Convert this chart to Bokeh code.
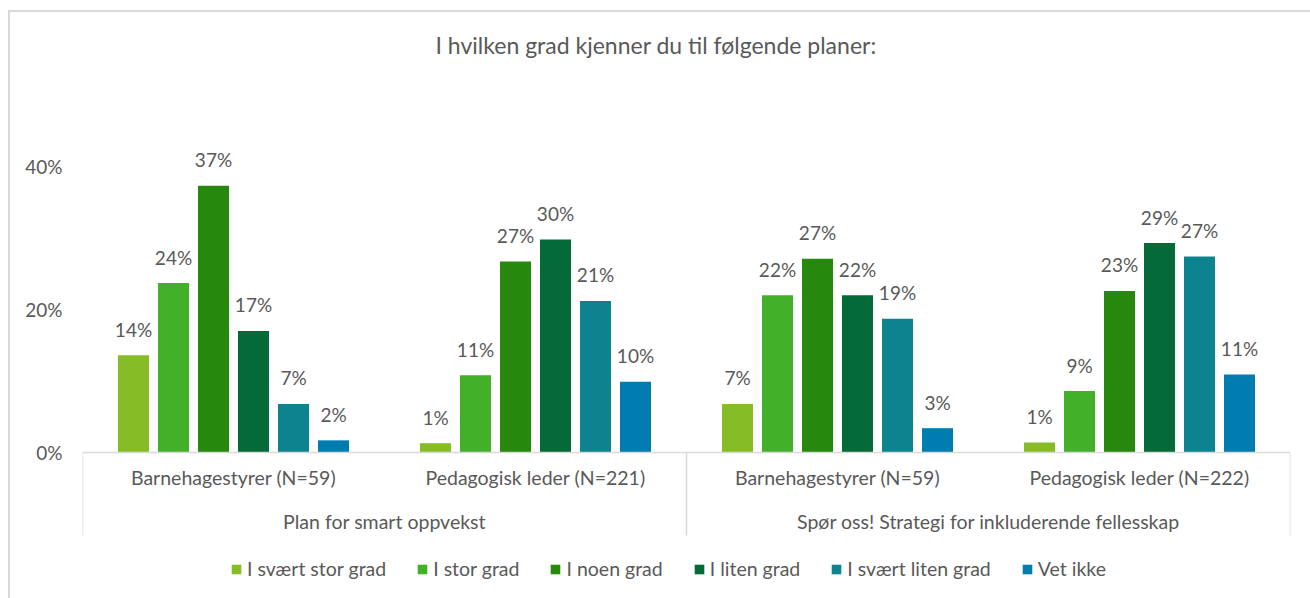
from bokeh.plotting import figure
from bokeh.models import (FactorRange, Range1d, ColumnDataSource, FixedTicker,
                          PrintfTickFormatter, Legend, LegendItem)
from bokeh.transform import dodge
from bokeh.core.properties import value
from bokeh.embed import file_html
from bokeh.resources import INLINE

# ---------------- data ----------------
title_text = "I hvilken grad kjenner du til følgende planer:"
plans = ["Plan for smart oppvekst", "Spør oss! Strategi for inkluderende fellesskap"]
respondents = [["Barnehagestyrer (N=59)", "Pedagogisk leder (N=221)"],
               ["Barnehagestyrer (N=59)", "Pedagogisk leder (N=222)"]]
series = ["I svært stor grad", "I stor grad", "I noen grad",
          "I liten grad", "I svært liten grad", "Vet ikke"]
colors = ["#86BC25", "#43B02A", "#26890D", "#046A38", "#0D8390", "#007CB0"]
svaert_stor = [13.6, 1.3, 6.8, 1.4]
stor = [23.7, 10.8, 22.0, 8.6]
noen = [37.3, 26.7, 27.1, 22.6]
liten = [17.0, 29.8, 22.0, 29.3]
svaert_liten = [6.8, 21.2, 18.7, 27.4]
vet_ikke = [1.7, 9.9, 3.4, 10.9]
y_ticks = [0, 20, 40]
values = [svaert_stor, stor, noen, liten, svaert_liten, vet_ikke]

# ---------------- layout constants (pixels) ----------------
W, H = 1310, 598
LEFT, RIGHT, TOP, BOTTOM = 82, 20, 63, 0
ZERO_Y = 452            # pixel row of the 0% baseline
PX = 7.15               # pixels per percentage point
FONT = "Lato"
TXT = "#595959"
GRAY = "#d9d9d9"
FS = "19px"
FS_AX = "19.5px"

y_end = (ZERO_Y - TOP) / PX
y_start = y_end - (H - TOP - BOTTOM) / PX


def below(px):
    return -px / PX


factors = [(plans[i], r) for i in range(len(plans)) for r in respondents[i]]

p = figure(width=W, height=H, output_backend="svg", toolbar_location=None,
           x_range=FactorRange(*factors, range_padding=0, group_padding=0,
                               subgroup_padding=0, factor_padding=0),
           y_range=Range1d(y_start, y_end), x_axis_location=None,
           min_border_left=LEFT, min_border_right=RIGHT,
           min_border_top=TOP, min_border_bottom=BOTTOM)
p.border_fill_color = None
p.background_fill_color = None
p.outline_line_color = None
p.xgrid.visible = False
p.ygrid.visible = False
# chart-area border: only its left and top edges are inside the original crop
p.styles = {"background": (
    "linear-gradient(#d9d9d9, #d9d9d9) 8px 10px / 2px 100% no-repeat, "
    "linear-gradient(#d9d9d9, #d9d9d9) 8px 10px / 100% 2px no-repeat")}

p.title.text = title_text
p.title.align = "left"
p.title.offset = 353
p.title.text_font = FONT
p.title.text_font_size = "23px"
p.title.text_font_style = "normal"
p.title.text_color = TXT

ya = p.yaxis[0]
ya.ticker = FixedTicker(ticks=y_ticks)
ya.formatter = PrintfTickFormatter(format="%d%%")
ya.axis_line_color = None
ya.major_tick_line_color = None
ya.minor_tick_line_color = None
ya.major_tick_out = 0
ya.major_label_standoff = 20
ya.major_label_text_font = FONT
ya.major_label_text_font_size = FS
ya.major_label_text_color = TXT

# ---------------- bars + data labels ----------------
n = len(series)
pitch = 40 / 302
bar_w = 31 / 302
items = []
for i, (name, vals, col) in enumerate(zip(series, values, colors)):
    src = ColumnDataSource(dict(cat=factors, v=vals,
                                lbl=[f"{round(v)}%" for v in vals]))
    off = (i - (n - 1) / 2) * pitch
    r = p.vbar(x=dodge("cat", off, range=p.x_range), top="v", width=bar_w,
               source=src, fill_color=col, line_color=None)
    items.append(LegendItem(label=name, renderers=[r]))
    p.text(x=dodge("cat", off, range=p.x_range), y="v", text="lbl", source=src,
           y_offset=-26, text_align="center", text_baseline="alphabetic",
           text_font=value(FONT), text_font_size=FS, text_color=TXT)

# ---------------- category axis (two levels) ----------------
sub_src = ColumnDataSource(dict(cat=factors, lbl=[f[1] for f in factors]))
p.text(x="cat", y=below(25), text="lbl", source=sub_src,
       text_align="center", text_baseline="alphabetic",
       text_font=value(FONT), text_font_size=FS_AX, text_color=TXT)
grp_src = ColumnDataSource(dict(cat=plans, lbl=plans))
p.text(x="cat", y=below(69), text="lbl", source=grp_src,
       text_align="center", text_baseline="alphabetic",
       text_font=value(FONT), text_font_size=FS_AX, text_color=TXT)

first_of_group = [(plans[i], respondents[i][0]) for i in range(len(plans))]
sep_l = ColumnDataSource(dict(cat=first_of_group))
p.segment(x0=dodge("cat", -0.5, range=p.x_range), y0=0,
          x1=dodge("cat", -0.5, range=p.x_range), y1=below(83),
          source=sep_l, line_color=GRAY, line_width=1.5)
sep_r = ColumnDataSource(dict(cat=[factors[-1]]))
p.segment(x0=dodge("cat", 0.5, range=p.x_range), y0=0,
          x1=dodge("cat", 0.5, range=p.x_range), y1=below(83),
          source=sep_r, line_color=GRAY, line_width=1.5)
base_src = ColumnDataSource(dict(a=[factors[0]], b=[factors[-1]]))
p.segment(x0=dodge("a", -0.5, range=p.x_range), y0=0,
          x1=dodge("b", 0.5, range=p.x_range), y1=0,
          source=base_src, line_color=GRAY, line_width=1.5)

# ---------------- legend ----------------
legend = Legend(items=items, orientation="horizontal", location=(148, 18),
                glyph_width=12, glyph_height=12, label_standoff=5, spacing=30,
                padding=0, margin=0, border_line_color=None,
                background_fill_alpha=0, label_text_font=FONT,
                label_text_font_size=FS_AX, label_text_color=TXT)
p.add_layout(legend)

open("out.html", "w").write(file_html(p, INLINE))
